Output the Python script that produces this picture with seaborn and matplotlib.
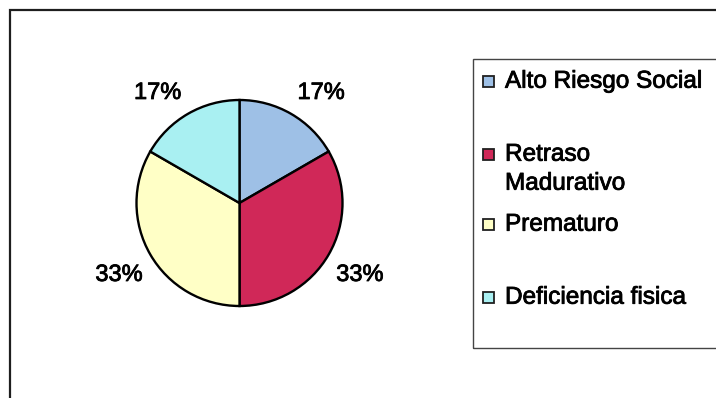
import numpy as np
import matplotlib
matplotlib.use("Agg")
import matplotlib.pyplot as plt
import matplotlib.patheffects as pe
from matplotlib.patches import Rectangle
import seaborn as sns

# Diagnóstico de los niños atendidos (número de casos)
categorias = ["Alto Riesgo Social", "Retraso\nMadurativo", "Prematuro", "Deficiencia fisica"]
casos = [1, 2, 2, 1]
colores = ["#9ec0e6", "#d02858", "#ffffc6", "#a9f0f2"]

sns.set_theme(style="white")
plt.rcParams["font.family"] = ["Liberation Sans", "DejaVu Sans"]

W, H = 716, 398
fig = plt.figure(figsize=(W / 100, H / 100), dpi=100)
ax = fig.add_axes([0, 0, 1, 1])

# slightly heavier strokes for all text
trazo = [pe.withStroke(linewidth=0.6, foreground="black")]


def fy(y):
    """Pixel row measured from the top -> axes y."""
    return H - y


# pie
cx, cy, r = 239.5, fy(203), 103
wedges, _ = ax.pie(casos, colors=colores, startangle=90, counterclock=False,
                   center=(cx, cy), radius=r, frame=True,
                   wedgeprops=dict(edgecolor="black", linewidth=1.7))
ax.set_xlim(0, W)
ax.set_ylim(0, H)
ax.set_aspect("equal")
ax.set_axis_off()

# outer chart frame
ax.add_patch(Rectangle((9.5, fy(10) - 600), 900, 600, fill=False,
                       edgecolor="#1e1e1e", linewidth=1.6, zorder=1))

# percentage labels placed outside each wedge
tam = 17
cap = 0.716 * tam * 100 / 72  # cap height in pixels
total = sum(casos)
ajuste_angulo = [-6, 0, 0, 6]
inicio = 90.0
for v, da in zip(casos, ajuste_angulo):
    ext = 360.0 * v / total
    medio = inicio - ext / 2
    inicio -= ext
    ang = np.deg2rad(medio + da)
    ax.text(cx + 1.35 * r * np.cos(ang), cy + 1.35 * r * np.sin(ang) - cap / 2,
            f"{100 * v / total:.0f}%", ha="center", va="baseline",
            fontsize=tam, color="black", path_effects=trazo)

# legend box
ax.add_patch(Rectangle((473, fy(348)), 400, 289, fill=False,
                       edgecolor="#444444", linewidth=1.0, zorder=1))
tam_ley = 17.5
cap_ley = 0.716 * tam_ley * 100 / 72
filas = [79, 152, 222, 295]
linea_px = 29
for etiqueta, color, y0 in zip(categorias, colores, filas):
    ax.add_patch(Rectangle((483, fy(y0 + 2) - 5.5), 11, 11, facecolor=color,
                           edgecolor="#202020", linewidth=1.3, zorder=3))
    for i, linea in enumerate(etiqueta.split("\n")):
        ax.text(505, fy(y0 + i * linea_px + cap_ley / 2), linea, ha="left",
                va="baseline", fontsize=tam_ley, color="black",
                path_effects=trazo)

fig.savefig("out.png", dpi=100, facecolor="white")
